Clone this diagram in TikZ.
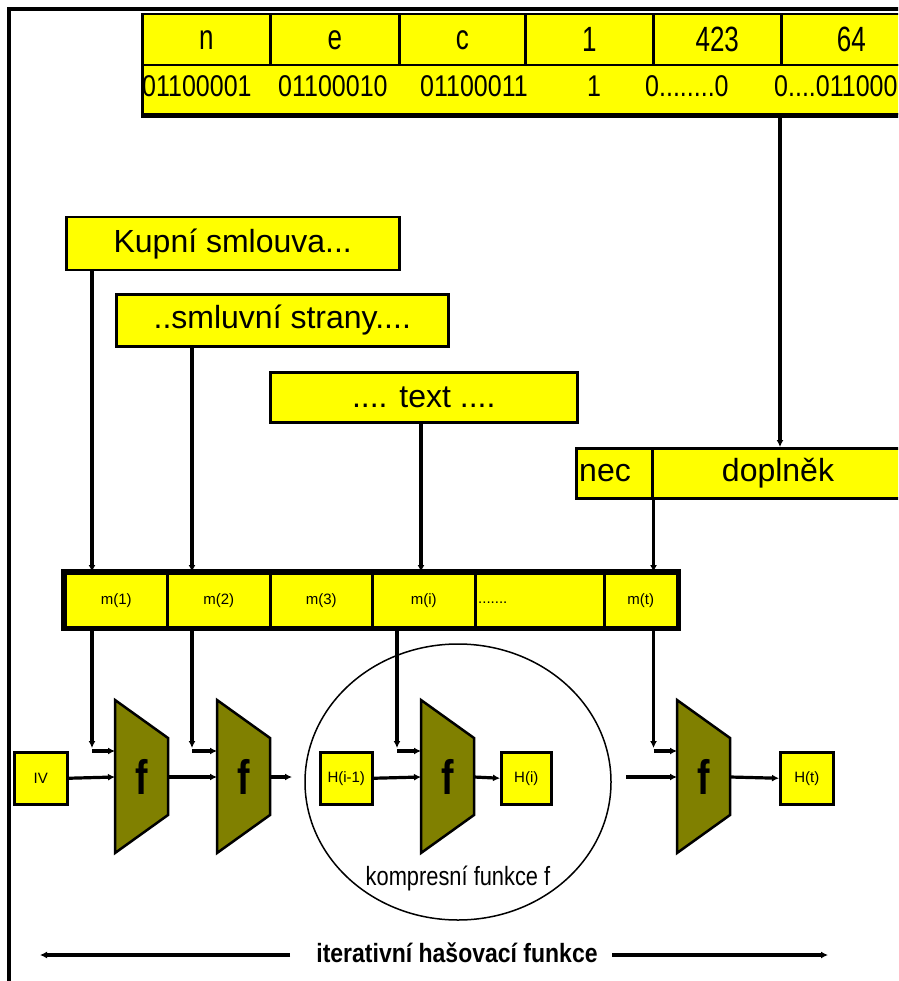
\documentclass[tikz,border=0pt]{standalone}
\usepackage{fontspec}
\setmainfont{Liberation Sans}
\usetikzlibrary{arrows.meta,calc}
\definecolor{boxyellow}{HTML}{FFFF00}
\definecolor{fblock}{HTML}{808000}

% compression block "f": name, left x
\newcommand{\fblk}[2]{%
  \draw[line width=2.5pt,fill=fblock] (#2,700) -- (#2,853) -- ({#2+53},815) -- ({#2+53},738) -- cycle;
  \node[font=\fontsize{44}{44}\selectfont\bfseries,inner sep=0pt] (#1) at ({#2+26.5},777) {\scalebox{0.85}[1.1]{f}};
  \coordinate (#1in) at (#2,777);
  \coordinate (#1fd) at (#2,751);
  \coordinate (#1out) at ({#2+53},777);
}
% tall, narrow lettering of the table
\newcommand{\tallA}[1]{\scalebox{1}[1.35]{#1}}
\newcommand{\tallB}[1]{\scalebox{1}[1.2]{#1}}

\begin{document}
\begin{tikzpicture}[x=1pt,y=-1pt,
  conn/.style={line width=3.2pt,-{Latex[length=7pt,width=7pt]}},
  ybox/.style={draw=black,line width=2.5pt,fill=boxyellow,inner sep=0pt,anchor=north west},
  fz/.style={font=\fontsize{#1}{#1}\selectfont},
  txt/.style={inner sep=0pt}]
\useasboundingbox (0,0) rectangle (898,981);
\clip (0,0) rectangle (898,981);

% page frame
\draw[line width=3.5pt] (9,995) -- (9,9) -- (910,9);

% padded message block
\node[ybox,minimum width=780pt,minimum height=49pt] (bits) at (141,64) {};
\draw[line width=4.5pt] (bits.south west) -- (bits.south east);
\node[ybox,minimum width=128pt,minimum height=51pt,fz=26] (cn) at (141,13) {\tallA{n}};
\node[ybox,minimum width=129pt,minimum height=51pt,fz=26] (ce) at (269,13) {\tallA{e}};
\node[ybox,minimum width=126pt,minimum height=51pt,fz=26] (cc) at (398,13) {\tallA{c}};
\node[ybox,minimum width=128pt,minimum height=51pt,fz=26] (c1) at (524,13) {\tallA{1}};
\node[ybox,minimum width=128pt,minimum height=51pt,fz=26] (c423) at (652,13) {\tallA{423}};
\node[ybox,minimum width=140pt,minimum height=51pt,fz=26] (c64) at (780,13) {\tallA{64}};
\node[txt,fz=25,anchor=west] (b1) at (142,86) {\tallB{01100001}};
\node[txt,fz=25,anchor=west] (b2) at (278,86) {\tallB{01100010}};
\node[txt,fz=25,anchor=west] (b3) at (420,86) {\tallB{01100011}};
\node[txt,fz=25] (b4) at (594,86) {\tallB{1}};
\node[txt,fz=25,anchor=west] (b5) at (645,86) {\tallB{0........0}};
\node[txt,fz=25,anchor=west] (b6) at (774,86) {\tallB{0....011000}};

% message parts
\node[ybox,minimum width=333pt,minimum height=53pt,fz=32] (kup) at (65,216) {Kupní smlouva...};
\node[ybox,minimum width=332pt,minimum height=52pt,fz=32] (sml) at (115,293) {..smluvní strany....};
\node[ybox,minimum width=307pt,minimum height=50pt,fz=32] (txtb) at (269,371) {.... text ....};
\node[ybox,minimum width=76pt,minimum height=50pt] (nec) at (575,447) {};
\node[ybox,minimum width=254pt,minimum height=50pt] (dop) at (651,447) {};
\node[txt,fz=32,anchor=base west] (necl) at (579,481) {nec};
\node[txt,fz=32,anchor=base] (dopl) at (778,481) {doplněk};

\coordinate (tap) at (780,116);
\draw[conn] (tap) -- (tap |- dop.north);

% message blocks
\node[ybox,minimum width=102pt,minimum height=54pt,fz=15] (m1) at (64,572) {m(1)};
\node[ybox,minimum width=103pt,minimum height=54pt,fz=15] (m2) at (166,572) {m(2)};
\node[ybox,minimum width=102pt,minimum height=54pt,fz=15] (m3) at (269,572) {m(3)};
\node[ybox,minimum width=103pt,minimum height=54pt,fz=15] (mi) at (371,572) {m(i)};
\node[ybox,minimum width=129pt,minimum height=54pt] (md) at (474,572) {};
\node[txt,fz=15,anchor=west] (mdl) at (478,603) {.......};
\node[ybox,minimum width=73pt,minimum height=54pt,fz=15] (mt) at (603,572) {m(t)};
\draw[line width=5.5pt] (m1.north west) rectangle (mt.south east);

\coordinate (a1) at ($(kup.south west)+(27,0)$);
\coordinate (a2) at ($(sml.south west)+(77,0)$);
\coordinate (a3) at ($(txtb.south west)+(152,0)$);
\draw[conn] (a1) -- (a1 |- m1.north);
\draw[conn] (a2) -- (a2 |- m2.north);
\draw[conn] (a3) -- (a3 |- mi.north);
\draw[conn] (nec.south east) -- (nec.south east |- mt.north);

% compression chain
\fblk{f1}{115}
\fblk{f2}{217}
\fblk{f3}{421}
\fblk{f4}{677}

\node[ybox,minimum width=53pt,minimum height=52pt,fz=15] (iv) at (13,751) {IV};
\node[ybox,minimum width=52pt,minimum height=52pt,fz=15] (hprev) at (319,751) {H(i-1)};
\node[ybox,minimum width=50pt,minimum height=52pt,fz=15] (hi) at (500,751) {H(i)};
\node[ybox,minimum width=53pt,minimum height=52pt,fz=15] (ht) at (779,751) {H(t)};

\coordinate (o1) at (a1 |- m1.south);
\coordinate (o2) at (a2 |- m2.south);
\coordinate (o3) at ($(mi.south west)+(26,0)$);
\coordinate (o4) at (nec.south east |- mt.south);
\foreach \o/\f in {o1/f1,o2/f2,o3/f3,o4/f4}{
  \draw[conn] (\o) -- ($(\o |- \f fd)+(0,-3)$);
  \draw[conn] (\o |- \f fd) -- (\f fd);
}

\coordinate (gapL) at (292,777);
\coordinate (gapR) at (626,777);
\draw[conn] (iv.east) -- (f1in);
\draw[conn] (f1out) -- (f2in);
\draw[conn] (f2out) -- (gapL);
\draw[conn] (hprev.east) -- (f3in);
\draw[conn] (f3out) -- (hi.west);
\draw[conn] (gapR) -- (f4in);
\draw[conn] (f4out) -- (ht.west);

% one round of the compression function
\draw[line width=1.5pt] (458,782) ellipse [x radius=153, y radius=138];
\node[txt,fz=23] (kf) at (458,878) {\scalebox{0.95}[1.15]{kompresní funkce f}};

% whole iterated hash
\node[txt,font=\fontsize{23}{23}\selectfont\bfseries] (itr) at (457,953) {\scalebox{1}[1.15]{iterativní hašovací funkce}};
\coordinate (lineL) at (290,955);
\coordinate (lineR) at (612,955);
\coordinate (endL) at (40,955);
\coordinate (endR) at (828,955);
\draw[conn] (lineL) -- (endL);
\draw[conn] (lineR) -- (endR);
\end{tikzpicture}
\end{document}
